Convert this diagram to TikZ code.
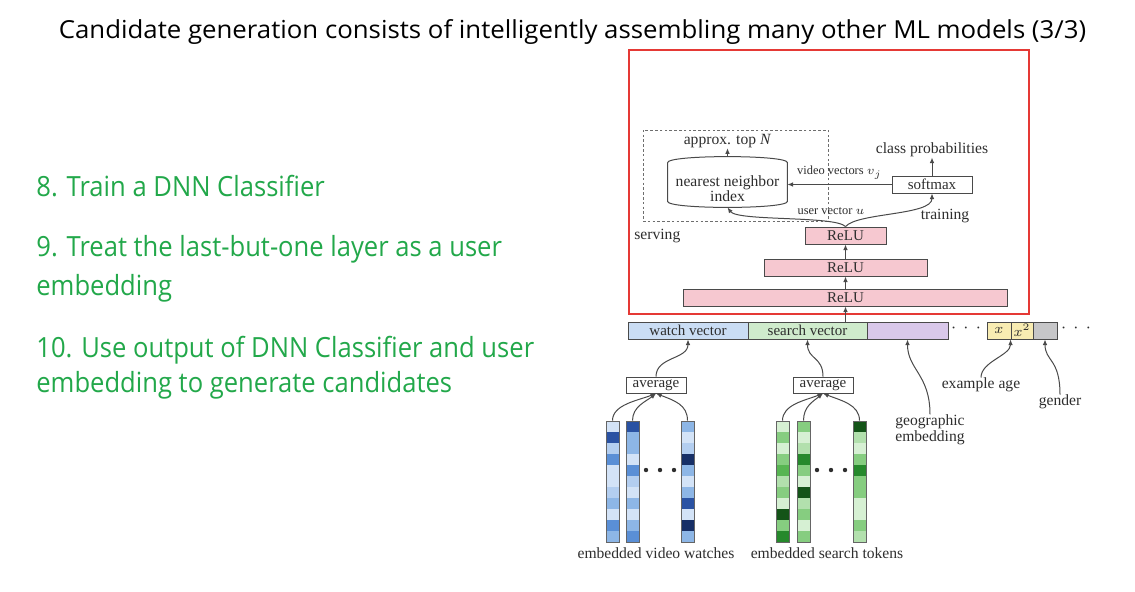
\documentclass[tikz,border=0pt]{standalone}
\usepackage{fontspec}
\newfontfamily\titlefont[FakeStretch=1.04]{Open Sans}
\newfontfamily\stepfont[FakeStretch=0.92]{Open Sans}
\newfontfamily\figfont{Liberation Serif}
\usetikzlibrary{arrows.meta,calc}

% palette
\definecolor{ink}{HTML}{2E2E2E}
\definecolor{edge}{HTML}{4A4A4A}
\definecolor{slidegreen}{HTML}{22A84A}
\definecolor{frame}{HTML}{E53935}
\definecolor{relu}{HTML}{F6C8D0}
\definecolor{watchfill}{HTML}{CADDF4}
\definecolor{searchfill}{HTML}{CFEBCC}
\definecolor{geofill}{HTML}{D9C8EA}
\definecolor{agefill}{HTML}{F8ECB2}
\definecolor{genderfill}{HTML}{C6C6C8}
\definecolor{b1}{HTML}{D3E3F7}
\definecolor{b2}{HTML}{B3CEF0}
\definecolor{b3}{HTML}{8DB6E6}
\definecolor{b4}{HTML}{5A8FD6}
\definecolor{b5}{HTML}{2A52A3}
\definecolor{b6}{HTML}{172F66}
\definecolor{g1}{HTML}{D6F0D3}
\definecolor{g2}{HTML}{B2E0AD}
\definecolor{g3}{HTML}{86CD80}
\definecolor{g4}{HTML}{57B552}
\definecolor{g5}{HTML}{26892C}
\definecolor{g6}{HTML}{145418}

% one embedding column: left edge, node name, eleven cell colours
\newcommand\embcolumn[3]{%
  \foreach \c [count=\i from 0] in {#3} {
    \fill[\c] (#1,421+11*\i) rectangle ++(13,11);
  }
  \node[colbox] (#2) at (#1+6.5,481.5) {};
}

\begin{document}
\begin{tikzpicture}[x=0.5pt,y=-0.5pt,
  lbl/.style={font=\figfont\fontsize{7.8}{8.6}\selectfont, text=ink, inner sep=0pt},
  small/.style={font=\figfont\fontsize{6.2}{7}\selectfont, text=ink, inner sep=0pt},
  box/.style={draw=edge, line width=0.45pt, inner sep=0pt, font=\figfont\fontsize{7.5}{8.5}\selectfont, text=ink, minimum height=8.5pt},
  colbox/.style={draw=edge!85, line width=0.45pt, inner sep=0pt, minimum width=6.5pt, minimum height=60.5pt},
  conn/.style={draw=edge, line width=0.5pt, -{Latex[length=2.8pt,width=2.3pt]}},
  ellipsis/.style={font=\fontsize{9}{9}\selectfont, text=ink, inner sep=0pt},
  item/.style={font=\stepfont\fontsize{13.9}{16}\selectfont, text=slidegreen, inner sep=0pt, anchor=base west}]

\useasboundingbox (0,0) rectangle (1135,591);
\fill[white] (0,0) rectangle (1135,591);

% heading
\node[anchor=base, inner sep=0pt, font=\titlefont\fontsize{12.4}{14}\selectfont] (title) at (572.5,38)
  {Candidate generation consists of intelligently assembling many other ML models (3/3)};

% steps
\node[item] (s8) at (36,196) {8. Train a DNN Classifier};
\node[item] (s9) at (36,256) {9. Treat the last-but-one layer as a user};
\node[item] (s9b) at (36,295) {embedding};
\node[item] (s10) at (36,357) {10. Use output of DNN Classifier and user};
\node[item] (s10b) at (36,392) {embedding to generate candidates};

% highlighted region
\node[draw=frame, line width=1pt, inner sep=0pt, minimum width=200pt, minimum height=132pt] (hl) at (829,182) {};

% serving region
\node[draw=edge!80, line width=0.5pt, dash pattern=on 1.3pt off 1.1pt, inner sep=0pt,
  minimum width=92.5pt, minimum height=45.5pt] (serve) at (735.5,175.5) {};
\node[lbl, anchor=west] (servelbl) at (634,236) {serving};
\node[lbl] (trainlbl) at (945,216) {training};

% nearest neighbour index (cylinder)
\node[lbl, align=center, minimum width=59.5pt, minimum height=18pt] (nn) at (727.5,189) {};
\draw[edge, line width=0.5pt, fill=white]
  ([yshift=4pt]nn.north west) .. controls ([yshift=8pt]nn.north west) and ([yshift=8pt]nn.north east) .. ([yshift=4pt]nn.north east)
  -- ([yshift=3pt]nn.south east) .. controls ([yshift=-1pt]nn.south east) and ([yshift=-1pt]nn.south west) .. ([yshift=3pt]nn.south west)
  -- cycle;
\node[lbl, align=center] (nntext) at (nn) {nearest neighbor\\[-1pt]index};
\node[lbl] (apx) at (727.5,141) {approx. top \textit{N}};
\draw[conn] ([yshift=7pt]nn.north) -- (apx.south);

% softmax head
\node[box, minimum width=40pt] (sm) at (932,184.5) {softmax};
\node[lbl] (cp) at (932,150) {class probabilities};
\draw[conn] (sm.north) -- (cp.south);
\draw[conn] (sm.west) -- (sm.west -| nn.east) node[small, midway, above=2.5pt] (vv) {video vectors $v_j$};

% ReLU stack
\node[box, fill=relu, minimum width=40.5pt] (r1) at (845.5,235.5) {ReLU};
\node[box, fill=relu, minimum width=81.5pt] (r2) at (845.5,267.5) {ReLU};
\node[box, fill=relu, minimum width=162pt] (r3) at (845.5,297.5) {ReLU};
\draw[conn] (r3.north) -- (r2.south);
\draw[conn] (r2.north) -- (r1.south);
\draw[conn] (r1.north) .. controls +(-10,-11) and +(10,14) .. (nn.south);
\draw[conn] (r1.north) .. controls +(12,-14) and +(0,22) .. (sm.south);
\node[small] (uv) at (831,211) {user vector $u$};

% input feature vector
\node[box, fill=watchfill, minimum width=60pt] (watch) at (688,330.5) {watch vector};
\node[box, fill=searchfill, minimum width=59.5pt] (search) at (807.5,330.5) {search vector};
\node[box, fill=geofill, minimum width=40.5pt] (geo) at (907.5,330.5) {};
\node[ellipsis] (dots1) at (966,328) {$\cdot\,\cdot\,\cdot$};
\node[box, fill=agefill, minimum width=12pt] (xa) at (999,330.5) {$x$};
\node[box, fill=agefill, minimum width=11pt] (xsq) at (1022,330.5) {$x^2$};
\node[box, fill=genderfill, minimum width=12pt] (gen) at (1045,330.5) {};
\node[ellipsis] (dots2) at (1076,328) {$\cdot\,\cdot\,\cdot$};
\draw[conn] (search.north -| r3.south) -- (r3.south);

% side features
\node[lbl, align=left] (geolbl) at (930,430) {geographic\\[-0.5pt]embedding};
\node[lbl] (agelbl) at (981,385) {example age};
\node[lbl] (genlbl) at (1060,402) {gender};
\draw[conn] (geolbl.north) .. controls +(0,-40) and +(0,30) .. (geo.south);
\draw[conn] (agelbl.north) .. controls +(0,-16) and +(0,16) .. (xsq.south west);
\draw[conn] (genlbl.north) .. controls +(0,-36) and +(0,22) .. (gen.south);

% averaging
\node[box, minimum width=30pt, minimum height=8pt] (avgw) at (656,385) {average};
\node[box, minimum width=30pt, minimum height=8pt] (avgs) at (823,385) {average};
\draw[conn] (avgw.north) .. controls +(0,-20) and +(0,20) .. (watch.south);
\draw[conn] (avgs.north) .. controls +(0,-20) and +(0,20) .. (search.south);

% embedded watches
\embcolumn{606}{w1}{b1,b5,b2,b4,b1,b1,b2,b3,b1,b4,b3}
\embcolumn{626}{w2}{b5,b3,b3,b1,b4,b2,b1,b3,b1,b3,b4}
\embcolumn{681}{w3}{b3,b1,b2,b6,b3,b1,b3,b5,b1,b6,b3}
\foreach \dx in {646,660,674} \fill[ink] (\dx,470) circle[radius=2.2];
\node[lbl] (ewlbl) at (656,553) {embedded video watches};

% embedded search tokens
\embcolumn{776}{t1}{g1,g3,g1,g3,g4,g2,g3,g1,g6,g3,g5}
\embcolumn{797}{t2}{g3,g1,g2,g5,g3,g1,g6,g2,g3,g1,g3}
\embcolumn{853}{t3}{g6,g2,g1,g3,g5,g3,g3,g1,g1,g3,g2}
\foreach \dx in {817,831,845} \fill[ink] (\dx,470) circle[radius=2.2];
\node[lbl] (stlbl) at (827,553) {embedded search tokens};

% pooling links
\draw[conn] (w1.north) .. controls +(0,-16) and +(-18,7) .. (avgw.south);
\draw[conn] (w2.north) .. controls +(0,-14) and +(-10,8) .. (avgw.south);
\draw[conn] (w3.north) .. controls +(0,-16) and +(18,7) .. (avgw.south);
\draw[conn] (t1.north) .. controls +(0,-16) and +(-18,7) .. (avgs.south);
\draw[conn] (t2.north) .. controls +(0,-14) and +(-10,8) .. (avgs.south);
\draw[conn] (t3.north) .. controls +(0,-16) and +(18,7) .. (avgs.south);

\end{tikzpicture}
\end{document}
